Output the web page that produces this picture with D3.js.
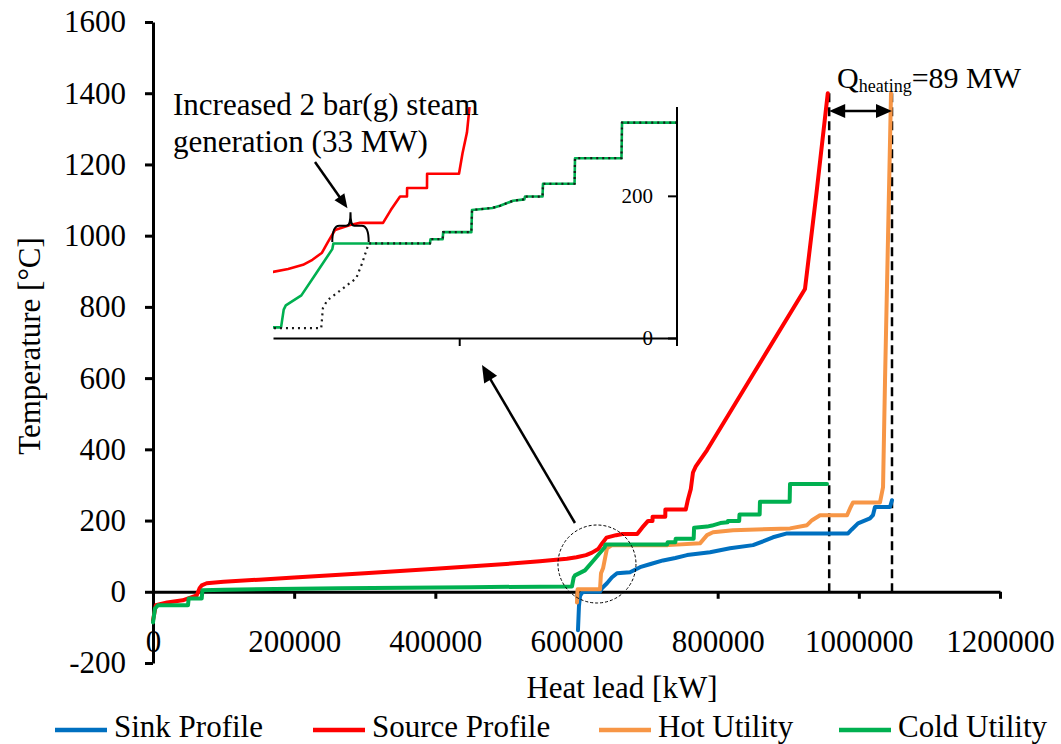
<!DOCTYPE html>
<html>
<head>
<meta charset="utf-8">
<script src="https://cdn.jsdelivr.net/npm/d3@7/dist/d3.min.js"></script>
<style>
  html, body { margin: 0; padding: 0; background: #fff; }
  svg { display: block; }
  text { font-family: "Liberation Serif", "Times New Roman", Tinos, "Noto Serif", "DejaVu Serif", serif; fill: #000; }
</style>
</head>
<body>
<svg id="chart" width="1061" height="744"></svg>
<script>
// Composite curves: heat load [kW] vs temperature [°C]
const sinkProfile = [
  [602100, -108], [603500, -40], [605000, -12], [608000, -2], [612000, 0], [633300, 0],
  [636000, 10], [643200, 24], [650000, 40], [657400, 52], [675800, 55], [690000, 69],
  [705000, 78], [722600, 88], [740000, 95], [756600, 103], [789200, 111], [817500, 122],
  [850100, 131], [865000, 142], [878400, 153], [898300, 164], [984700, 164], [990000, 175],
  [998800, 192], [1015800, 206], [1020000, 215], [1022900, 238], [1044200, 238], [1047000, 257]
];
const sourceProfile = [
  [0, -80], [4000, -38], [20000, -30], [42000, -24], [62000, -10], [66000, 10], [69000, 18],
  [76000, 24], [100000, 28], [150000, 34], [200000, 40], [300000, 52], [400000, 65],
  [500000, 78], [548000, 86], [586300, 93], [600000, 97], [613500, 103], [622000, 110],
  [630700, 120], [636000, 135], [642500, 152], [656100, 159], [665100, 162], [686000, 162],
  [693000, 180], [701400, 199], [707700, 199], [707800, 211], [725800, 211], [725900, 231],
  [754800, 231], [758000, 260], [762000, 289], [765000, 335], [769000, 352], [785000, 398],
  [850000, 610], [923700, 850], [940000, 1120], [956000, 1400]
];
const hotUtility = [
  [600700, -30], [601500, 7], [633300, 7], [634700, 52], [637600, 66], [643200, 122],
  [650300, 131], [729600, 131], [775000, 136], [784900, 159], [793400, 167], [821700, 173],
  [902500, 178], [926600, 187], [933700, 201], [945000, 215], [983300, 215], [987500, 234],
  [991800, 251], [1030000, 251], [1034300, 294], [1037100, 594], [1041400, 1000], [1045600, 1400]
];
const coldUtility = [
  [0, -86], [2800, -47], [7000, -38], [49600, -38], [50500, -19], [69000, -19], [70000, 4],
  [100000, 6], [265000, 10], [450000, 13], [593600, 15], [596000, 40], [597900, 46],
  [612000, 60], [625000, 90], [640000, 125], [641000, 133], [728500, 133], [729000, 139],
  [740000, 139], [740500, 149], [766000, 149], [766600, 180], [785000, 183], [792000, 186],
  [803700, 193], [814000, 195], [814600, 199], [830500, 199], [830900, 217], [859500, 217],
  [859900, 253], [902000, 253], [902500, 303], [954900, 303]
];
// Cold utility before the extra 2 bar(g) steam generation (detail view only)
const coldUtilityBase = [
  [560000, 14], [630000, 14], [631500, 42], [635500, 53], [661700, 84], [667000, 105],
  [673000, 133], [728500, 133], [729000, 139], [740000, 139], [740500, 149], [766000, 149],
  [766600, 180], [785000, 183], [792000, 186], [803700, 193], [814000, 195], [814600, 199],
  [830500, 199], [830900, 217], [859500, 217], [859900, 253], [902000, 253], [902500, 303],
  [954900, 303]
];

const xTicks = [0, 200000, 400000, 600000, 800000, 1000000, 1200000];
const yTicks = [-200, 0, 200, 400, 600, 800, 1000, 1200, 1400, 1600];
const insetYTicks = [0, 200];
const insetXTicks = [755000];

const seriesNames = ["Sink Profile", "Source Profile", "Hot Utility", "Cold Utility"];
const seriesColors = ["#0070C0", "#FF0000", "#F79646", "#00B050"];
const seriesData = [sinkProfile, sourceProfile, hotUtility, coldUtility];

const pinchHotEnd = 958000;     // source profile top end
const pinchColdEnd = 1047000;   // hot utility top end
const heatingLabel = ["Q", "heating", "=89 MW"];
const steamLabel = ["Increased 2 bar(g) steam", "generation (33 MW)"];
const steamShift = [640000, 673000];

const FONT = 31;
const SERIF = "'Liberation Serif', 'Times New Roman', Tinos, 'Noto Serif', 'DejaVu Serif', serif";
const svg = d3.select("#chart");

const x = d3.scaleLinear().domain([0, 1200000]).range([153, 1000]);
const y = d3.scaleLinear().domain([-200, 1600]).range([663, 22]);

// Axes
const xAxis = d3.axisBottom(x).tickValues(xTicks).tickSize(7).tickSizeOuter(0)
  .tickPadding(31).tickFormat(d => String(d));
const gx = svg.append("g").attr("transform", `translate(0,${y(0)})`).call(xAxis);
const yAxis = d3.axisLeft(y).tickValues(yTicks).tickSize(8).tickSizeOuter(0)
  .tickPadding(19).tickFormat(d => String(d));
const gy = svg.append("g").attr("transform", `translate(${x(0)},0)`).call(yAxis);
[gx, gy].forEach(g => {
  g.attr("font-family", null);
  g.selectAll("path.domain, .tick line").attr("stroke", "#000").attr("stroke-width", 3);
  g.selectAll("text").attr("font-size", FONT).attr("fill", "#000").style("font-family", SERIF);
});

// Axis titles
svg.append("text").attr("x", 622).attr("y", 698).attr("text-anchor", "middle")
  .attr("font-size", FONT).text("Heat lead [kW]");
svg.append("text").attr("transform", "translate(40,346) rotate(-90)")
  .attr("text-anchor", "middle").attr("font-size", FONT).text("Temperature [°C]");

// Dashed guides for the heating requirement
[pinchHotEnd, pinchColdEnd].forEach(v => {
  svg.append("line").attr("x1", x(v)).attr("x2", x(v)).attr("y1", y(1400)).attr("y2", y(0))
    .attr("stroke", "#000").attr("stroke-width", 2.5).attr("stroke-dasharray", "9,5");
});

// Main curves
const line = d3.line().x(d => x(d[0])).y(d => y(d[1]));
seriesData.forEach((s, i) => {
  svg.append("path").datum(s).attr("d", line).attr("fill", "none")
    .attr("stroke", seriesColors[i]).attr("stroke-width", 4)
    .attr("stroke-linejoin", "round").attr("stroke-linecap", "round");
});

// Arrowhead helper
function arrowHead(tip, from, len, half) {
  const dx = tip[0] - from[0], dy = tip[1] - from[1];
  const L = Math.hypot(dx, dy), ux = dx / L, uy = dy / L;
  const bx = tip[0] - ux * len, by = tip[1] - uy * len;
  return `M${tip[0]},${tip[1]}L${bx - uy * half},${by + ux * half}L${bx + uy * half},${by - ux * half}Z`;
}

// Double-headed arrow for Q_heating
const arrY = y(1350);
const aL = [x(pinchHotEnd), arrY], aR = [x(pinchColdEnd), arrY];
svg.append("line").attr("x1", aL[0] + 10).attr("x2", aR[0] - 10).attr("y1", arrY).attr("y2", arrY)
  .attr("stroke", "#000").attr("stroke-width", 2.5);
svg.append("path").attr("d", arrowHead(aL, aR, 16, 7)).attr("fill", "#000");
svg.append("path").attr("d", arrowHead(aR, aL, 16, 7)).attr("fill", "#000");
const q = svg.append("text").attr("x", 837).attr("y", 88).attr("font-size", 30);
q.append("tspan").text(heatingLabel[0]);
q.append("tspan").attr("font-size", 18).attr("dy", 4).text(heatingLabel[1]);
q.append("tspan").attr("dy", -4).text(heatingLabel[2]);

// Zoom circle around the pinch region
const cx = x(629000), cy = y(78);
svg.append("circle").attr("cx", cx).attr("cy", cy).attr("r", 39)
  .attr("fill", "none").attr("stroke", "#000").attr("stroke-width", 1)
  .attr("stroke-dasharray", "3,2");

// Detail view
const xi = d3.scaleLinear().domain([586300, 952300]).range([273, 677]);
const yi = d3.scaleLinear().domain([0, 325]).range([338, 107]);
svg.append("rect").attr("x", 268).attr("y", 100).attr("width", 414).attr("height", 250).attr("fill", "#fff");
svg.append("defs").append("clipPath").attr("id", "insetClip").append("rect")
  .attr("x", 273).attr("y", 107).attr("width", 404).attr("height", 231);
const gi = svg.append("g").attr("clip-path", "url(#insetClip)");
const lineI = d3.line().x(d => xi(d[0])).y(d => yi(d[1]));
gi.append("path").datum(sourceProfile).attr("d", lineI).attr("fill", "none")
  .attr("stroke", "#FF0000").attr("stroke-width", 2.6).attr("stroke-linejoin", "round");
gi.append("path").datum(coldUtility).attr("d", lineI).attr("fill", "none")
  .attr("stroke", "#00B050").attr("stroke-width", 2.6).attr("stroke-linejoin", "round");
gi.append("path").datum(coldUtilityBase).attr("d", lineI).attr("fill", "none")
  .attr("stroke", "#1a1a1a").attr("stroke-width", 2.2).attr("stroke-dasharray", "2,4");

const ixAxis = d3.axisBottom(xi).tickValues(insetXTicks).tickSize(8).tickSizeOuter(0).tickFormat("");
const gix = svg.append("g").attr("transform", `translate(0,${yi(0)})`).call(ixAxis);
const iyAxis = d3.axisLeft(yi).tickValues(insetYTicks).tickSize(9).tickSizeOuter(0)
  .tickPadding(15).tickFormat(d => String(d));
const giy = svg.append("g").attr("transform", `translate(${xi.range()[1]},0)`).call(iyAxis);
giy.select("path.domain").attr("d", `M0,${yi.range()[1]}V${yi(0) + 8}`);
[gix, giy].forEach(g => {
  g.attr("font-family", null);
  g.selectAll("path.domain, .tick line").attr("stroke", "#000").attr("stroke-width", 2);
  g.selectAll("text").attr("font-size", 21).attr("fill", "#1c1c2e").style("font-family", SERIF);
});

// Connector arrow from circle to detail view
const cStart = [cx - 22, cy - 41];
const cTip = [482, 365];
svg.append("line").attr("x1", cStart[0]).attr("y1", cStart[1])
  .attr("x2", cTip[0] + (cStart[0] - cTip[0]) * 0.08).attr("y2", cTip[1] + (cStart[1] - cTip[1]) * 0.08)
  .attr("stroke", "#000").attr("stroke-width", 2.5);
svg.append("path").attr("d", arrowHead(cTip, cStart, 17, 7.5)).attr("fill", "#000");

// Brace marking the 33 MW shift, with its label and arrow
const b0 = xi(steamShift[0]), b1 = xi(steamShift[1]), bm = (b0 + b1) / 2;
const yb = yi(135), yt = yi(158), yp = yi(177);
svg.append("path")
  .attr("d", `M${b0},${yb}C${b0},${yt + 5} ${b0 + 2},${yt} ${b0 + 7},${yt}L${bm - 4},${yt}` +
    `C${bm - 1},${yt} ${bm},${yt - 3} ${bm},${yp}C${bm},${yt - 3} ${bm + 1},${yt} ${bm + 4},${yt}` +
    `L${b1 - 7},${yt}C${b1 - 2},${yt} ${b1},${yt + 5} ${b1},${yb}`)
  .attr("fill", "none").attr("stroke", "#000").attr("stroke-width", 2);
const sStart = [315, 162], sTip = [bm - 3, yp - 4];
svg.append("line").attr("x1", sStart[0]).attr("y1", sStart[1])
  .attr("x2", sTip[0] - (sTip[0] - sStart[0]) * 0.2).attr("y2", sTip[1] - (sTip[1] - sStart[1]) * 0.2)
  .attr("stroke", "#000").attr("stroke-width", 2.5);
svg.append("path").attr("d", arrowHead(sTip, sStart, 14, 6)).attr("fill", "#000");
steamLabel.forEach((t, i) => {
  svg.append("text").attr("x", 173).attr("y", 115 + i * 37).attr("font-size", FONT).text(t);
});

// Legend
const legendX = [55, 313, 599, 839];
seriesNames.forEach((n, i) => {
  const lx = legendX[i];
  svg.append("line").attr("x1", lx).attr("x2", lx + 52).attr("y1", 730).attr("y2", 730)
    .attr("stroke", seriesColors[i]).attr("stroke-width", 4.5);
  svg.append("text").attr("x", lx + 59).attr("y", 737).attr("font-size", FONT).text(n);
});

svg.selectAll("text").style("font-family", SERIF);
</script>
</body>
</html>
